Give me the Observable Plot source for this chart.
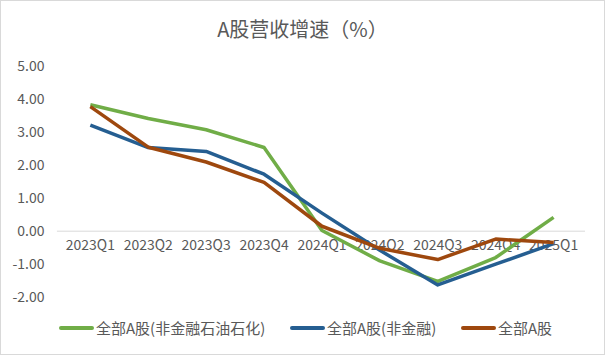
<!DOCTYPE html>
<html>
<head>
<meta charset="utf-8">
<script src="https://cdn.jsdelivr.net/npm/d3@7"></script>
<script src="https://cdn.jsdelivr.net/npm/@observablehq/plot@0.6"></script>
<style>
  html, body { margin: 0; padding: 0; background: #fff; }
  #wrap { position: relative; width: 603px; height: 353px; border: 1px solid #d9d9d9; background: #fff;
    font-family: "Noto Sans CJK SC", "Noto Sans", sans-serif; color: #595959; overflow: hidden; }
  #title { position: absolute; left: 0; top: 16px; width: 603px; text-align: center; font-size: 20px; color: #595959; line-height: 24px; }
  #chart { position: absolute; left: -1px; top: 49px; }
  #legend { position: absolute; top: 317px; left: 0; width: 603px; font-size: 15px; color: #595959; }
  .item { position: absolute; display: flex; align-items: center; white-space: nowrap; line-height: 20px; }
  .sw { width: 35px; height: 3.5px; border-radius: 2px; margin-right: 2px; }
</style>
</head>
<body>
<div id="wrap">
  <div id="title">A股营收增速（%）</div>
  <div id="chart"></div>
  <div id="legend"></div>
</div>
<script>
const categories = ["2023Q1","2023Q2","2023Q3","2023Q4","2024Q1","2024Q2","2024Q3","2024Q4","2025Q1"];
const seriesNames = ["全部A股(非金融石油石化)", "全部A股(非金融)", "全部A股"];
const seriesColors = ["#70AD47", "#255E91", "#9E480E"];
const valsExPetro = [3.84, 3.42, 3.08, 2.54, 0.02, -0.90, -1.52, -0.80, 0.42];
const valsNonFin  = [3.22, 2.54, 2.42, 1.73, 0.55, -0.58, -1.63, -1.00, -0.38];
const valsAll     = [3.78, 2.55, 2.10, 1.48, 0.15, -0.52, -0.86, -0.24, -0.34];
const yTicks = [-2, -1, 0, 1, 2, 3, 4, 5];

const allSeries = [valsExPetro, valsNonFin, valsAll];
const data = [];
allSeries.forEach((vals, si) => vals.forEach((v, i) => data.push({cat: categories[i], value: v, series: seriesNames[si]})));

const plot = Plot.plot({
  width: 605,
  height: 262,
  marginTop: 16,
  marginBottom: 15,
  marginLeft: 57,
  marginRight: 19,
  style: {fontFamily: "'Noto Sans CJK SC', 'Noto Sans', sans-serif", fontSize: "14px", color: "#595959", background: "transparent"},
  x: {type: "point", domain: categories, padding: 0.5, axis: null},
  y: {domain: [-2, 5]},
  color: {domain: seriesNames, range: seriesColors},
  marks: [
    Plot.ruleY([0], {stroke: "#d9d9d9", strokeWidth: 1}),
    Plot.axisY(yTicks, {tickFormat: d => d.toFixed(2), tickSize: 0, tickPadding: 13, fill: "#595959", fontSize: 14, label: null}),
    Plot.text(categories, {x: d => d, y: () => 0, dy: 14, fill: "#595959", fontSize: 14, text: d => d}),
    Plot.line(data, {x: "cat", y: "value", z: "series", stroke: "series", strokeWidth: 3.5, strokeLinejoin: "round", strokeLinecap: "butt"})
  ]
});
document.getElementById("chart").appendChild(plot);

const legend = document.getElementById("legend");
const lx = [58, 289, 460];
seriesNames.forEach((n, i) => {
  const it = document.createElement("div");
  it.className = "item";
  it.style.left = lx[i] + "px";
  it.innerHTML = `<span class="sw" style="background:${seriesColors[i]}"></span><span>${n}</span>`;
  legend.appendChild(it);
});
</script>
</body>
</html>
